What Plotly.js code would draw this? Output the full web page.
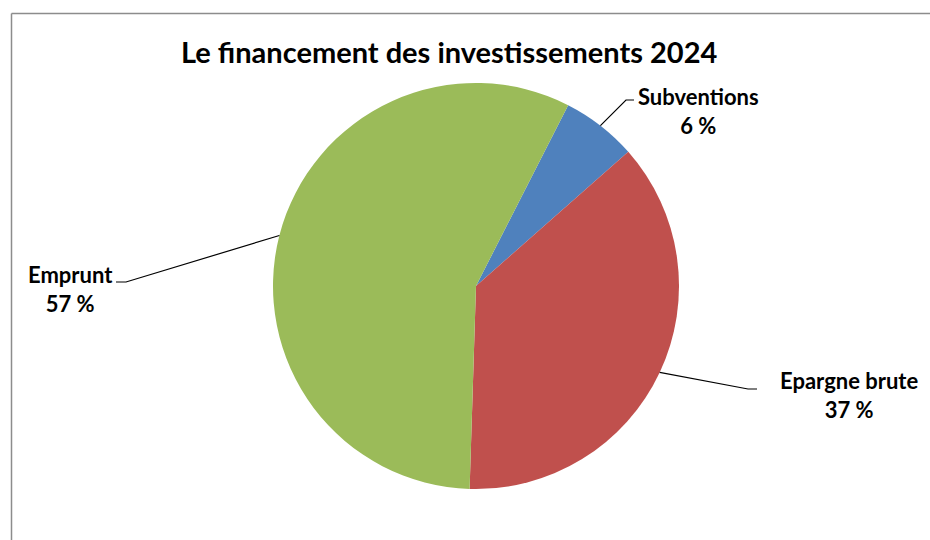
<!DOCTYPE html>
<html>
<head>
<meta charset="utf-8">
<script src="https://cdn.plot.ly/plotly-3.0.1.min.js"></script>
<style>html,body{margin:0;padding:0;background:#fff;}#chart{width:930px;height:540px;}</style>
</head>
<body>
<div id="chart"></div>
<script>
// Data
const categories = ["Subventions", "Epargne brute", "Emprunt"];
const values = [6, 37, 57];
const percentLabels = ["6 %", "37 %", "57 %"];
const colors = ["#4F81BD", "#C0504D", "#9BBB59"];
const chartTitle = "Le financement des investissements 2024";

// Layout (pixel space, margins are 0 so paper == pixels)
const W = 930, H = 540;
const cx = 476, cy = 286, R = 203;
const rotationDeg = 27;
const FONT = "Lato, 'Open Sans', sans-serif";
// label anchor (text centre) and leader elbow per slice
const labelPos = [
  {x: 698, y: 111, elbow: [626, 100], end: [634, 100]},
  {x: 849, y: 395, elbow: [748, 389], end: [757, 389]},
  {x: 70,  y: 289, elbow: [126, 282], end: [116, 282]}
];

const px = x => x / W;
const py = y => 1 - y / H;

const total = values.reduce((a, b) => a + b, 0);
const shapes = [];
const annotations = [];
let acc = 0;
values.forEach((v, i) => {
  const mid = rotationDeg + (acc + v / 2) / total * 360;
  acc += v;
  const a = mid * Math.PI / 180;
  const sx = cx + R * Math.sin(a), sy = cy - R * Math.cos(a);
  const lp = labelPos[i];
  shapes.push({
    type: "path", xref: "paper", yref: "paper",
    path: `M ${px(sx)} ${py(sy)} L ${px(lp.elbow[0])} ${py(lp.elbow[1])} L ${px(lp.end[0])} ${py(lp.end[1])}`,
    line: {color: "#000", width: 1.2}
  });
  annotations.push({
    xref: "paper", yref: "paper", x: px(lp.x), y: py(lp.y),
    xanchor: "center", yanchor: "middle", showarrow: false, align: "center",
    text: "<b>" + categories[i] + "</b><br><b>" + percentLabels[i] + "</b>",
    font: {family: FONT, size: 22, color: "#000"}
  });
});

// chart frame (cropped on right and bottom)
shapes.push({type: "line", xref: "paper", yref: "paper", x0: px(11.5), y0: py(13.5), x1: px(935), y1: py(13.5), line: {color: "#8c8c8c", width: 1.5}});
shapes.push({type: "line", xref: "paper", yref: "paper", x0: px(11.5), y0: py(13.5), x1: px(11.5), y1: py(545), line: {color: "#8c8c8c", width: 1.5}});

annotations.push({
  xref: "paper", yref: "paper", x: px(449), y: py(51),
  xanchor: "center", yanchor: "middle", showarrow: false,
  text: "<b>" + chartTitle + "</b>",
  font: {family: FONT, size: 29, color: "#000"}
});

const trace = {
  type: "pie",
  labels: categories,
  values: values,
  sort: false,
  direction: "clockwise",
  rotation: rotationDeg,
  textinfo: "none",
  hoverinfo: "label+percent",
  marker: {colors: colors, line: {width: 0}},
  domain: {x: [px(cx - R), px(cx + R)], y: [py(cy + R), py(cy - R)]},
  showlegend: false
};

Plotly.newPlot("chart", [trace], {
  width: W, height: H,
  margin: {l: 0, r: 0, t: 0, b: 0},
  paper_bgcolor: "#fff",
  showlegend: false,
  shapes: shapes,
  annotations: annotations
}, {displayModeBar: false, staticPlot: true});
</script>
</body>
</html>
